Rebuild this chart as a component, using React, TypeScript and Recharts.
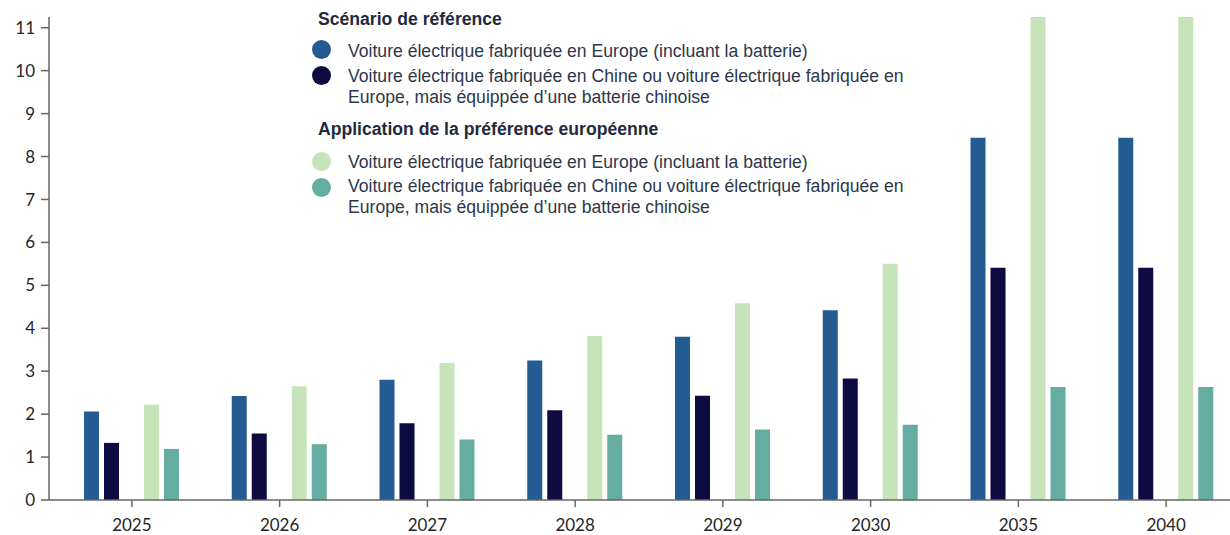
import React from "react";
import { BarChart, Bar, XAxis, YAxis } from "recharts";

const categories = ["2025", "2026", "2027", "2028", "2029", "2030", "2035", "2040"];
const refEurope = [2.06, 2.42, 2.8, 3.25, 3.8, 4.42, 8.44, 8.44];
const refChina = [1.33, 1.55, 1.79, 2.09, 2.43, 2.83, 5.41, 5.41];
const prefEurope = [2.22, 2.65, 3.19, 3.82, 4.58, 5.5, 13, 13];
const prefChina = [1.19, 1.3, 1.41, 1.52, 1.64, 1.75, 2.63, 2.63];
const yTicks = [0, 1, 2, 3, 4, 5, 6, 7, 8, 9, 10, 11];

const colors = {
  refEurope: "#255b93",
  refChina: "#0d0b40",
  prefEurope: "#c6e3ba",
  prefChina: "#65aca1",
};

const groupTitles = ["Scénario de référence", "Application de la préférence européenne"];
const labelEurope = "Voiture électrique fabriquée en Europe (incluant la batterie)";
const labelChinaLines = [
  "Voiture électrique fabriquée en Chine ou voiture électrique fabriquée en",
  "Europe, mais équippée d\u2019une batterie chinoise",
];

const data = categories.map((c, i) => ({
  year: c,
  refEurope: refEurope[i],
  refChina: refChina[i],
  prefEurope: prefEurope[i],
  prefChina: prefChina[i],
}));

const axisFont = "Lato, 'Open Sans', sans-serif";
const legendFont = "'Liberation Sans', Arial, sans-serif";
const textColor = "#2d374b";

function Dot({ x, y, color }: { x: number; y: number; color: string }) {
  return (
    <div
      style={{
        position: "absolute",
        left: x - 9.5,
        top: y - 9.5,
        width: 19,
        height: 19,
        borderRadius: "50%",
        background: color,
      }}
    />
  );
}

function Line({ x, y, text, bold }: { x: number; y: number; text: string; bold?: boolean }) {
  return (
    <div
      style={{
        position: "absolute",
        left: x,
        top: y - 11,
        height: 22,
        lineHeight: "22px",
        fontSize: 17.6,
        fontWeight: bold ? 700 : 400,
        color: bold ? "#1f2a40" : textColor,
        whiteSpace: "nowrap",
        fontFamily: legendFont,
      }}
    >
      {text}
    </div>
  );
}

function LegendBlock() {
  return (
    <>
      <Line x={318} y={19} text={groupTitles[0]} bold />
      <Dot x={321} y={49} color={colors.refEurope} />
      <Line x={348} y={51} text={labelEurope} />
      <Dot x={321} y={75} color={colors.refChina} />
      <Line x={348} y={76} text={labelChinaLines[0]} />
      <Line x={348} y={97} text={labelChinaLines[1]} />
      <Line x={318} y={129} text={groupTitles[1]} bold />
      <Dot x={321} y={161} color={colors.prefEurope} />
      <Line x={348} y={162} text={labelEurope} />
      <Dot x={321} y={187} color={colors.prefChina} />
      <Line x={348} y={186} text={labelChinaLines[0]} />
      <Line x={348} y={207} text={labelChinaLines[1]} />
    </>
  );
}

export default function App() {
  return (
    <div
      style={{
        position: "absolute",
        left: 0,
        top: 0,
        width: 1230,
        height: 535,
        overflow: "hidden",
        background: "#ffffff",
      }}
    >
      <BarChart
        width={1250}
        height={535}
        data={data}
        margin={{ top: 17, right: 10, left: 0, bottom: 0 }}
        barSize={15}
        barGap={5}
      >
        <XAxis
          dataKey="year"
          height={35}
          padding={{ left: 9, right: 0 }}
          tickSize={7}
          tickMargin={12}
          axisLine={{ stroke: "#666666", strokeWidth: 1.5 }}
          tickLine={{ stroke: "#666666", strokeWidth: 1.5 }}
          tick={{ fill: "#262626", fontSize: 17, fontFamily: axisFont }}
        />
        <YAxis
          width={49}
          domain={[0, 11.25]}
          ticks={yTicks}
          allowDataOverflow
          tickSize={8}
          tickMargin={6}
          axisLine={{ stroke: "#666666", strokeWidth: 1.5 }}
          tickLine={{ stroke: "#666666", strokeWidth: 1.5 }}
          tick={{ fill: "#262626", fontSize: 17, fontFamily: axisFont }}
        />
        <Bar dataKey="refEurope" fill={colors.refEurope} isAnimationActive={false} />
        <Bar dataKey="refChina" fill={colors.refChina} isAnimationActive={false} />
        <Bar dataKey="spacer" fill="none" isAnimationActive={false} />
        <Bar dataKey="prefEurope" fill={colors.prefEurope} isAnimationActive={false} />
        <Bar dataKey="prefChina" fill={colors.prefChina} isAnimationActive={false} />
      </BarChart>
      <LegendBlock />
    </div>
  );
}
